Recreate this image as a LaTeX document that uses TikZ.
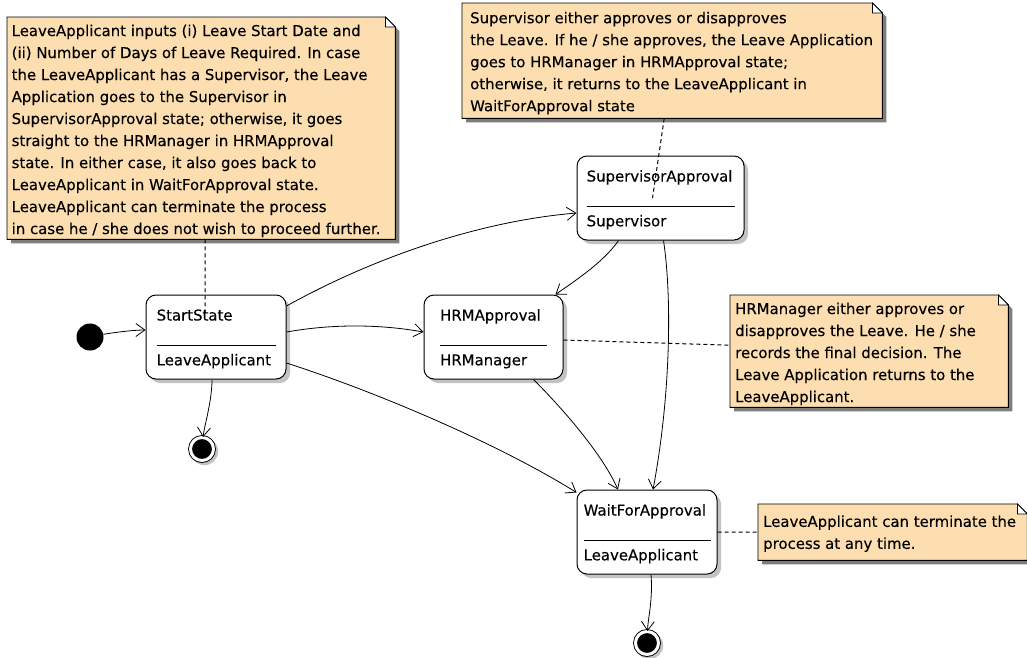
\documentclass[tikz,border=0pt]{standalone}
\usepackage{fontspec}
\setmainfont[FakeBold=0.3]{DejaVu Sans}
\usetikzlibrary{arrows.meta,shadows}
\definecolor{notefill}{RGB}{252,222,176}
\definecolor{noteshadow}{RGB}{125,125,125}
\definecolor{stateshadow}{RGB}{195,195,195}

% folded-corner note: frame node name, left, top, width, height
\newcommand\notebox[5]{%
  \node[noteframe, minimum width=#4pt, minimum height=#5pt, anchor=north west] (#1) at (#2,#3) {};
  \fill[noteshadow] ([shift={(4,-4)}]#1.north west) -- ([shift={(-6,-4)}]#1.north east)
     -- ([shift={(4,-14)}]#1.north east) -- ([shift={(4,-4)}]#1.south east)
     -- ([shift={(4,-4)}]#1.south west) -- cycle;
  \filldraw[notebody] (#1.north west) -- ([xshift=-10]#1.north east)
     -- ([yshift=-10]#1.north east) -- (#1.south east) -- (#1.south west) -- cycle;
  \filldraw[notefold] ([xshift=-10]#1.north east) -- ([shift={(-10,-10)}]#1.north east)
     -- ([yshift=-10]#1.north east) -- cycle;
}

% state compartments: node, inset, state name, role
\newcommand\statetext[4]{%
  \node[lbl, anchor=base west] (#1-name) at ([shift={(#2,-26)}]#1.north west) {#3};
  \draw[divider] ([shift={(#2,-50.5)}]#1.north west) -- ([shift={(-#2,-50.5)}]#1.north east);
  \node[lbl, anchor=base west] (#1-role) at ([shift={(#2,-70.8)}]#1.north west) {#4};
}

\begin{document}
\begin{tikzpicture}[x=1pt, y=1pt,
  every node/.style={font=\fontsize{14.9}{22}\selectfont},
  lbl/.style={inner sep=0pt},
  notetext/.style={inner sep=0pt, align=left, anchor=north west},
  noteframe/.style={inner sep=0pt},
  notebody/.style={fill=notefill, draw=black, line width=0.9pt},
  notefold/.style={fill=white, draw=black, line width=0.7pt},
  statebox/.style={draw=black, line width=1pt, rounded corners=10pt, fill=white,
    inner sep=0pt, minimum height=84pt,
    drop shadow={shadow xshift=4pt, shadow yshift=-4pt, fill=stateshadow, opacity=1}},
  initstate/.style={circle, fill=black, inner sep=0pt, minimum size=27pt},
  finalstate/.style={circle, fill=black, inner sep=0pt, minimum size=23pt, draw=black,
    line width=0.9pt, double=white, double distance=3pt,
    drop shadow={shadow scale=1.2, shadow xshift=2pt, shadow yshift=-2pt, fill=stateshadow, opacity=1}},
  trans/.style={draw=black, line width=0.8pt, -{Straight Barb[length=9pt, width=13pt]}},
  anchorline/.style={draw=black, line width=1pt, dash pattern=on 4pt off 3pt},
  divider/.style={draw=black, line width=0.9pt},
]
\useasboundingbox[fill=white] (0,0) rectangle (1027,-657);

% notes
\notebox{n1}{7}{-17}{388}{222}
\node[notetext] (n1t) at ([shift={(4.5,-7.5)}]n1.north west) {%
LeaveApplicant inputs (i) Leave Start Date and\\
(ii) Number of Days of Leave Required. In case\\
the LeaveApplicant has a Supervisor, the Leave\\
Application goes to the Supervisor in\\
SupervisorApproval state; otherwise, it goes\\
straight to the HRManager in HRMApproval\\
state. In either case, it also goes back to\\
LeaveApplicant in WaitForApproval state.\\
LeaveApplicant can terminate the process\\
in case he / she does not wish to proceed further.};

\notebox{n2}{462}{-3}{420}{115}
\node[notetext] (n2t) at ([shift={(8,-8.7)}]n2.north west) {%
Supervisor either approves or disapproves\\
the Leave. If he / she approves, the Leave Application\\
goes to HRManager in HRMApproval state;\\
otherwise, it returns to the LeaveApplicant in\\
WaitForApproval state};

\notebox{n3}{730}{-295}{278}{112}
\node[notetext] (n3t) at ([shift={(5,-7.5)}]n3.north west) {%
HRManager either approves or\\
disapproves the Leave. He / she\\
records the final decision. The\\
Leave Application returns to the\\
LeaveApplicant.};

\notebox{n4}{758}{-504}{269}{56}
\node[notetext] (n4t) at ([shift={(5,-11.3)}]n4.north west) {%
LeaveApplicant can terminate the\\
process at any time.};

% states
\node[statebox, minimum width=140pt] (st) at (216,-337) {};
\statetext{st}{11}{StartState}{LeaveApplicant}
\node[statebox, minimum width=167pt] (sup) at (660.5,-198) {};
\statetext{sup}{10}{SupervisorApproval}{Supervisor}
\node[statebox, minimum width=139pt] (hrm) at (493.5,-337) {};
\statetext{hrm}{16.5}{HRMApproval}{HRManager}
\node[statebox, minimum width=140pt] (wait) at (647,-532) {};
\statetext{wait}{7}{WaitForApproval}{LeaveApplicant}

% pseudo states
\node[initstate] (init) at (90,-337) {};
\node[finalstate] (f1) at (202,-449) {};
\node[finalstate] (f2) at (647,-643) {};

% transitions
\draw[trans] (init) .. controls +(15,3) and +(-16,0) .. ([yshift=7]st.west);
\draw[trans] ([yshift=31]st.east) .. controls +(90,50) and +(-95,-8) .. ([yshift=-15]sup.west);
\draw[trans] ([yshift=5]st.east) .. controls +(45,8) and +(-45,8) .. ([yshift=5]hrm.west);
\draw[trans] ([yshift=-26]st.east) .. controls +(93,-30) and +(-77,48) .. ([yshift=-3]wait.north west);
\draw[trans] ([xshift=-4]st.south) .. controls +(0,-22) and +(2,22) .. (f1);
\draw[trans] ([xshift=-42]sup.south) .. controls +(-15,-22) and +(17,12) .. ([xshift=-8]hrm.north east);
\draw[trans] ([xshift=3]sup.south) .. controls +(9,-60) and +(17,90) .. ([xshift=6]wait.north);
\draw[trans] ([xshift=40]hrm.south) .. controls +(22,-22) and +(-18,40) .. ([xshift=-29]wait.north);
\draw[trans] ([xshift=4]wait.south) .. controls +(2,-25) and +(1,25) .. (f2);

% note attachments
\draw[anchorline] ([xshift=4]n1.south) -- ([shift={(-11,-20)}]st.north);
\draw[anchorline] ([xshift=-8]n2.south) -- ([xshift=-8]sup.center);
\draw[anchorline] ([yshift=-3]hrm.east) -- ([yshift=6]n3.west);
\draw[anchorline] (wait.east) -- (n4.west);
\end{tikzpicture}
\end{document}
